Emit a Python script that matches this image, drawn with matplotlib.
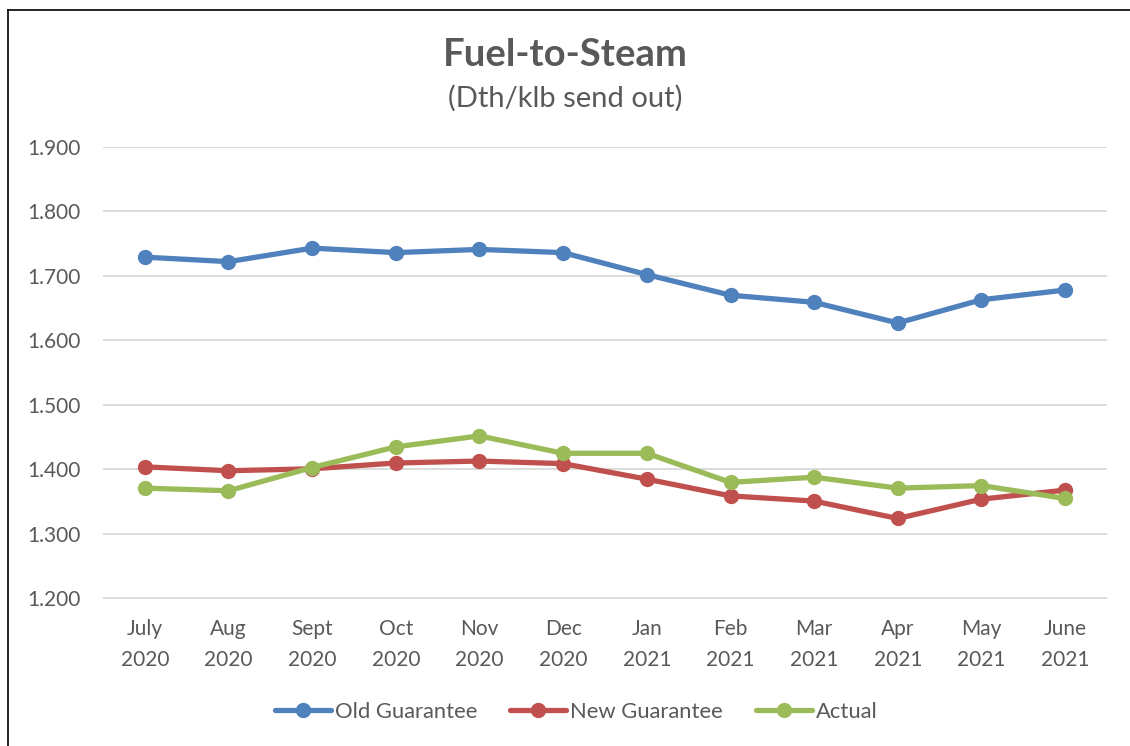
import matplotlib
matplotlib.use("Agg")
import matplotlib.pyplot as plt
from matplotlib.lines import Line2D

plt.rcParams['font.family'] = ['Lato', 'DejaVu Sans']

# data
months = ["July\n2020", "Aug\n2020", "Sept\n2020", "Oct\n2020", "Nov\n2020", "Dec\n2020",
          "Jan\n2021", "Feb\n2021", "Mar\n2021", "Apr\n2021", "May\n2021", "June\n2021"]
old_guarantee = [1.729, 1.722, 1.743, 1.736, 1.741, 1.736, 1.702, 1.670, 1.659, 1.627, 1.663, 1.678]
new_guarantee = [1.404, 1.398, 1.401, 1.410, 1.413, 1.409, 1.385, 1.359, 1.351, 1.324, 1.354, 1.368]
actual = [1.371, 1.367, 1.403, 1.435, 1.452, 1.425, 1.425, 1.380, 1.388, 1.371, 1.375, 1.355]
y_ticks = [1.2, 1.3, 1.4, 1.5, 1.6, 1.7, 1.8, 1.9]

text_col = '#595959'
W, H = 1130, 746

fig = plt.figure(figsize=(W / 100, H / 100), dpi=100)
ax = fig.add_axes([103 / W, 1 - 598.5 / H, (1107 - 103) / W, (598.5 - 146.8) / H])

x = list(range(len(months)))
series = [(old_guarantee, '#4F81BD', 'Old Guarantee'),
          (new_guarantee, '#C0504D', 'New Guarantee'),
          (actual, '#9BBB59', 'Actual')]
for vals, col, name in series:
    ax.plot(x, vals, color=col, lw=3.8, marker='o', ms=10, label=name,
            solid_capstyle='round', zorder=3)

ax.set_xlim(-0.5, len(months) - 0.5)
ax.set_ylim(1.2, 1.9)
ax.set_yticks(y_ticks)
ax.set_yticklabels([f"{v:.3f}" for v in y_ticks])
ax.set_xticks(x)
ax.set_xticklabels(months, linespacing=1.68)
ax.grid(axis='y', color='#D9D9D9', lw=1.3)
ax.set_axisbelow(True)
for s in ax.spines.values():
    s.set_visible(False)
ax.tick_params(length=0, labelsize=15, colors=text_col)
ax.tick_params(axis='y', pad=16)
ax.tick_params(axis='x', pad=15)

fig.text(0.5, 1 - 55 / H, "Fuel-to-Steam", ha='center', va='center',
         fontsize=27.5, fontweight='bold', color=text_col)
fig.text(0.5, 1 - 98 / H, "(Dth/klb send out)", ha='center', va='center',
         fontsize=21, color=text_col)

leg = fig.legend(loc='center', bbox_to_anchor=(576 / W, 1 - 712 / H), ncol=3,
                 frameon=False, fontsize=15.8, handlelength=2.55, handletextpad=0.18,
                 columnspacing=1.5)
for t in leg.get_texts():
    t.set_color(text_col)

# border of the chart area (left and top edges visible)
fig.add_artist(Line2D([8 / W, 8 / W], [0, 1 - 10 / H], color='black', lw=1.2))
fig.add_artist(Line2D([8 / W, 1], [1 - 10 / H, 1 - 10 / H], color='black', lw=1.2))

fig.savefig("out.png", dpi=100)
